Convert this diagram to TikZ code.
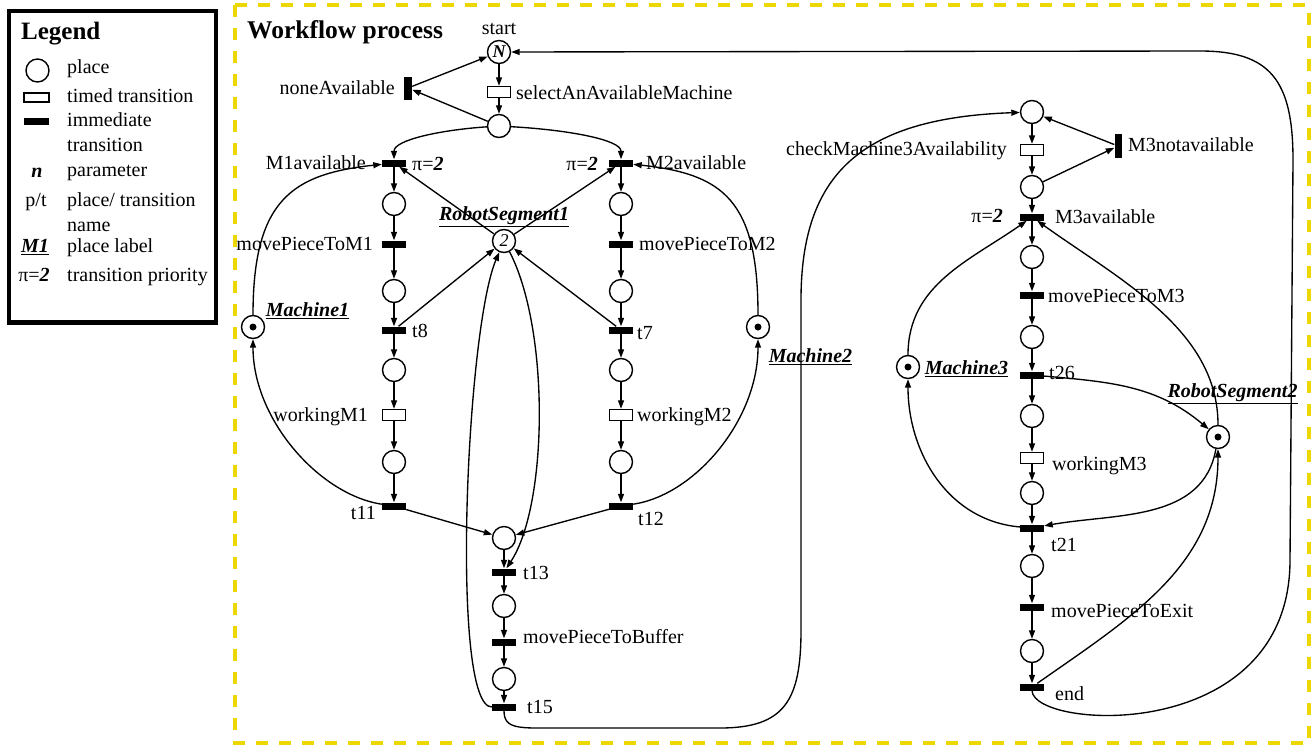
\documentclass[tikz,border=0pt]{standalone}
\usepackage{fontspec}
\setmainfont{Liberation Serif}
\usetikzlibrary{arrows.meta}
\definecolor{frameyellow}{RGB}{236,216,0}

\begin{document}
\begin{tikzpicture}[x=1pt,y=1pt,
  place/.style={circle,draw,line width=1.4pt,minimum size=23pt,inner sep=0pt,fill=white},
  marked/.style={place,path picture={\fill[black] (path picture bounding box.center) circle (3.5pt);}},
  imm/.style={rectangle,fill=black,minimum width=24pt,minimum height=7pt,inner sep=0pt},
  immv/.style={rectangle,fill=black,minimum width=8pt,minimum height=23pt,inner sep=0pt},
  timed/.style={rectangle,draw,line width=1.4pt,fill=white,minimum width=23pt,minimum height=11pt,inner sep=0pt},
  lbl/.style={inner sep=0pt,text height=13.2pt,text depth=0pt,font=\fontsize{20}{24}\selectfont},
  plabel/.style={lbl,font=\fontsize{20}{24}\selectfont\bfseries\itshape},
  legml/.style={inner sep=0pt,align=left,anchor=north west,font=\fontsize{20}{25}\selectfont},
  flow/.style={line width=1.35pt,-{Triangle[length=8.5pt,width=6pt]}},
  title/.style={inner sep=0pt,anchor=base west,font=\fontsize{25.5}{30}\selectfont\bfseries}]

\useasboundingbox (0,0) rectangle (1312,-745);

% ---------------- legend ----------------
\draw[line width=4.3pt] (8.8,-10.8) rectangle (215.8,-322.5);
\node[title,font=\fontsize{25}{30}\selectfont\bfseries] (lgTitle) at (21,-39) {Legend};
\node[place] (lgPlace) at (37.5,-70.5) {};
\node[timed,minimum width=25pt,minimum height=9pt] (lgTimed) at (36.5,-97.5) {};
\node[imm,minimum width=25pt,minimum height=6.5pt] (lgImm) at (36.5,-121.5) {};
\node[anchor=base,inner sep=0pt,font=\fontsize{20}{24}\selectfont\bfseries\itshape] (lgN) at (37,-177) {n};
\node[anchor=base,inner sep=0pt,font=\fontsize{20}{24}\selectfont] (lgPT) at (36,-206) {p/t};
\node[anchor=base,inner sep=0pt,font=\fontsize{20}{24}\selectfont\bfseries\itshape] (lgM) at (35,-252.5) {\underline{M1}};
\node[anchor=base,inner sep=0pt,font=\fontsize{20}{24}\selectfont] (lgPi) at (34,-281.7) {π=\textbf{\textit{2}}};
\node[lbl,anchor=west] (lgT1) at (67,-66.4) {place};
\node[lbl,anchor=west] (lgT2) at (67,-96) {timed transition};
\node[legml] (lgT3) at (67,-112.2) {immediate\\transition};
\node[lbl,anchor=west] (lgT4) at (67,-170.1) {parameter};
\node[legml] (lgT5) at (67,-192.2) {place/ transition\\name};
\node[lbl,anchor=west] (lgT6) at (67,-246.1) {place label};
\node[lbl,anchor=west] (lgT7) at (67,-275.1) {transition priority};

% ---------------- workflow frame ----------------
\draw[frameyellow,line width=4pt,dash pattern=on 12pt off 11pt] (234.5,-5.3) rectangle (1308.5,-743);
\node[title] (wfTitle) at (247,-38) {Workflow process};

% ---------------- places ----------------
\node[place,font=\fontsize{18}{20}\selectfont\bfseries\itshape] (pS) at (499,-52) {N};
\node[place] (p0) at (499,-126) {};
\node[place] (pL1) at (394,-204) {};
\node[place] (pL2) at (394,-291) {};
\node[place] (pL3) at (394,-370) {};
\node[place] (pL4) at (394,-462) {};
\node[place] (pR1) at (621,-204) {};
\node[place] (pR2) at (621,-291) {};
\node[place] (pR3) at (621,-370) {};
\node[place] (pR4) at (621,-462) {};
\node[marked] (m1) at (253,-327) {};
\node[marked] (m2) at (758,-327) {};
\node[place,font=\fontsize{18}{20}\selectfont\itshape] (rs1) at (504,-241) {2};
\node[place] (pC1) at (504,-538) {};
\node[place] (pC2) at (504,-606) {};
\node[place] (pC3) at (504,-679) {};
\node[place] (q1) at (1032,-112) {};
\node[place] (q2) at (1032,-187) {};
\node[place] (q3) at (1032,-257) {};
\node[place] (q4) at (1032,-337) {};
\node[place] (q5) at (1032,-416) {};
\node[place] (q6) at (1032,-493) {};
\node[place] (q7) at (1032,-566) {};
\node[place] (q8) at (1032,-651) {};
\node[marked] (m3) at (908,-367) {};
\node[marked] (rs2) at (1218,-437) {};

% ---------------- transitions ----------------
\node[timed] (tSel) at (499,-92) {};
\node[immv] (tNone) at (408,-88) {};
\node[imm] (tM1av) at (394,-163) {};
\node[imm] (tMv1) at (394,-244) {};
\node[imm] (t8) at (394,-330) {};
\node[timed] (tW1) at (394,-415) {};
\node[imm] (t11) at (394,-506) {};
\node[imm] (tM2av) at (621,-163) {};
\node[imm] (tMv2) at (621,-244) {};
\node[imm] (t7) at (621,-330) {};
\node[timed] (tW2) at (621,-415) {};
\node[imm] (t12) at (621,-506) {};
\node[imm] (t13) at (504,-572) {};
\node[imm] (tBuf) at (504,-642) {};
\node[imm] (t15) at (504,-707) {};
\node[timed] (tChk) at (1032,-150) {};
\node[immv,minimum width=7pt,minimum height=24pt] (tNot) at (1118,-146) {};
\node[imm] (tM3av) at (1032,-217) {};
\node[imm] (tMv3) at (1032,-295) {};
\node[imm] (t26) at (1032,-375) {};
\node[timed] (tW3) at (1032,-458) {};
\node[imm] (t21) at (1032,-528) {};
\node[imm] (tExit) at (1032,-607) {};
\node[imm] (tEnd) at (1032,-687) {};

% ---------------- names, labels, priorities ----------------
\node[lbl,anchor=south] (nStart) at (499,-35) {start};
\node[lbl,anchor=east] (nNone) at (395,-88) {noneAvailable};
\node[lbl,anchor=west] (nSel) at (516,-93) {selectAnAvailableMachine};
\node[lbl,anchor=east] (nM1av) at (366,-163) {M1available};
\node[lbl,anchor=west] (prM1) at (412,-164) {π=\textbf{\textit{2}}};
\node[lbl,anchor=east] (prM2) at (598,-164) {π=\textbf{\textit{2}}};
\node[lbl,anchor=west] (nM2av) at (646,-163) {M2available};
\node[lbl,anchor=east] (nMv1) at (373,-244) {movePieceToM1};
\node[lbl,anchor=west] (nT8) at (412,-331) {t8};
\node[lbl,anchor=east] (nW1) at (368,-415) {workingM1};
\node[lbl,anchor=east] (nT11) at (376,-513) {t11};
\node[lbl,anchor=west] (nMv2) at (639,-244) {movePieceToM2};
\node[lbl,anchor=west] (nT7) at (637,-333) {t7};
\node[lbl,anchor=west] (nW2) at (637,-415) {workingM2};
\node[lbl,anchor=west] (nT12) at (638,-519) {t12};
\node[lbl,anchor=west] (nT13) at (523,-573) {t13};
\node[lbl,anchor=west] (nBuf) at (523,-637) {movePieceToBuffer};
\node[lbl,anchor=west] (nT15) at (527,-707) {t15};
\node[plabel] (nMach1) at (307.5,-310) {\underline{Machine1}};
\node[plabel] (nMach2) at (810.5,-356) {\underline{Machine2}};
\node[plabel] (nRS1) at (504,-214) {\underline{RobotSegment1}};
\node[plabel] (nMach3) at (966.5,-368) {\underline{Machine3}};
\node[plabel] (nRS2) at (1232.5,-391) {\underline{RobotSegment2}};
\node[lbl,anchor=east] (nChk) at (1007,-149) {checkMachine3Availability};
\node[lbl,anchor=west] (nNot) at (1128,-145) {M3notavailable};
\node[lbl,anchor=east] (prM3) at (1003,-216) {π=\textbf{\textit{2}}};
\node[lbl,anchor=west] (nM3av) at (1055,-217) {M3available};
\node[lbl,anchor=west] (nMv3) at (1048,-296) {movePieceToM3};
\node[lbl,anchor=west] (nT26) at (1049,-373) {t26};
\node[lbl,anchor=west] (nW3) at (1052,-464) {workingM3};
\node[lbl,anchor=west] (nT21) at (1051,-545) {t21};
\node[lbl,anchor=west] (nExit) at (1051,-611) {movePieceToExit};
\node[lbl,anchor=west] (nEnd) at (1055,-694) {end};

% ---------------- arcs ----------------
% straight chains
\foreach \a/\b in {pS/tSel, tSel/p0, p0/tNone, tNone/pS,
    tM1av/pL1, pL1/tMv1, tMv1/pL2, pL2/t8, t8/pL3, pL3/tW1, tW1/pL4, pL4/t11,
    tM2av/pR1, pR1/tMv2, tMv2/pR2, pR2/t7, t7/pR3, pR3/tW2, tW2/pR4, pR4/t12,
    t11/pC1, t12/pC1, pC1/t13, t13/pC2, pC2/tBuf, tBuf/pC3, pC3/t15,
    rs1/tM1av, rs1/tM2av, t8/rs1, t7/rs1,
    q1/tChk, tChk/q2, q2/tM3av, tM3av/q3, q3/tMv3, tMv3/q4, q4/t26, t26/q5,
    q5/tW3, tW3/q6, q6/t21, t21/q7, q7/tExit, tExit/q8, q8/tEnd,
    q2/tNot, tNot/q1}
  \draw[flow] (\a) -- (\b);

% choice between the two machines
\draw[flow] (p0) .. controls (440,-130) and (394,-140) .. (tM1av);
\draw[flow] (p0) .. controls (570,-130) and (621,-140) .. (tM2av);

% machine resources
\draw[flow] (m1) .. controls (253,-200) and (292,-174) .. (tM1av);
\draw[flow] (t11) .. controls (320,-495) and (253,-420) .. (m1);
\draw[flow] (m2) .. controls (758,-200) and (723,-174) .. (tM2av);
\draw[flow] (t12) .. controls (695,-495) and (758,-420) .. (m2);

% robot segment 1
\draw[flow] (rs1) .. controls (550,-330) and (548,-505) .. (t13);
\draw[flow] (t15) .. controls (450,-707) and (466,-330) .. (rs1);

% hand-over to the third machine
\draw[flow] (t15.south) .. controls (504,-730) and (520,-728) .. (560,-728) -- (720,-728)
  .. controls (785,-728) and (801,-700) .. (801,-630) -- (801,-300)
  .. controls (801,-175) and (860,-118) .. (q1);

% machine 3 and robot segment 2
\draw[flow] (m3) to[out=90,in=-145] (tM3av);
\draw[flow] (t21) to[out=175,in=-90] (m3);
\draw[flow] (rs2) .. controls (1218,-330) and (1120,-280) .. (tM3av);
\draw[flow] (t26) to[out=-5,in=140] (rs2);
\draw[flow] (rs2) to[out=-100,in=10] (t21);
\draw[flow] (tEnd) to[out=35,in=-90] (rs2);

% return to start
\draw[flow] (tEnd.south) .. controls (1034,-730) and (1290,-745) .. (1290,-560) -- (1293,-160)
  .. controls (1293,-80) and (1270,-51) .. (1200,-51) -- (pS);

\end{tikzpicture}
\end{document}
